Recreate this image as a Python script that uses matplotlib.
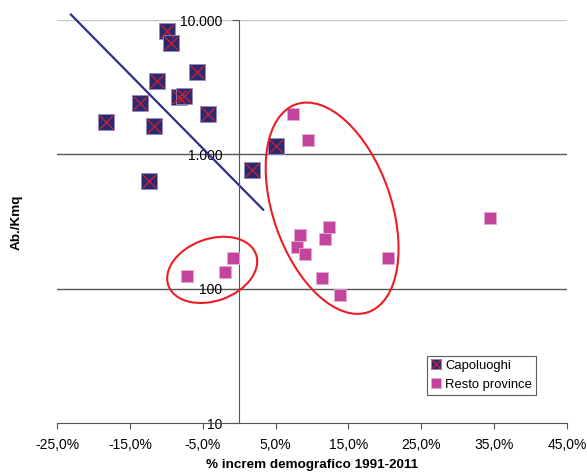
import matplotlib
matplotlib.use("Agg")
import matplotlib.pyplot as plt
from matplotlib.patches import Ellipse
from matplotlib.transforms import Affine2D, ScaledTranslation
from matplotlib.lines import Line2D

plt.rcParams['font.family'] = ['Liberation Sans', 'DejaVu Sans']

# Data: Capoluoghi (% increase 1991-2011, inhabitants/km2)
cap_x = [-9.9, -9.3, -5.8, -11.25, -8.2, -7.6, -13.6, -4.3, -18.3, -11.7, 5.0, 1.8, -12.4]
cap_y = [8250, 6760, 4110, 3500, 2680, 2740, 2415, 2000, 1730, 1636, 1155, 765, 629]

# Resto province
res_x = [7.45, 9.5, 12.35, 8.3, 11.8, 7.95, 9.05, 20.4, 11.4, 13.85, -7.2, -2.0, -0.8, 34.4]
res_y = [2000, 1280, 286, 251, 233, 205, 181, 168, 121, 89, 125, 133, 168, 338]

# Trend line (Capoluoghi)
trend_x = [-23.1, 3.3]
trend_y = [10990, 387]

# Highlight ellipses: centre (data), width/height (px), angle (deg)
ell_centres = [(12.76, 397), (-3.7, 138)]
ell_sizes = [(118, 220, 19.2), (93, 62, 19.7)]

xticks = [-25, -15, -5, 5, 15, 25, 35, 45]
xticklabels = ['-25,0%', '-15,0%', '-5,0%', '5,0%', '15,0%', '25,0%', '35,0%', '45,0%']
yticks = [10, 100, 1000, 10000]
yticklabels = ['10', '100', '1.000', '10.000']

W, H = 587, 473
fig = plt.figure(figsize=(W / 100, H / 100), dpi=100)
ax = fig.add_axes([57 / W, 1 - 423 / H, 510 / W, 403 / H])
ax.set_yscale('log')
ax.set_xlim(-25, 45)
ax.set_ylim(10, 10000)

navy = '#2b2a6e'
mag = '#c2449d'
red = '#ee1c25'

# gridlines
for v in yticks[1:]:
    col = '#c8c8c8' if v == 10000 else '#555555'
    ax.axhline(v, color=col, lw=1.0, zorder=1)

ax.plot(trend_x, trend_y, color='#2e2e8a', lw=1.6, zorder=2, clip_on=False)

ax.scatter(cap_x, cap_y, marker='s', s=11 ** 2, color=navy, edgecolor='#8f8fc8',
           linewidths=0.6, zorder=3)
ax.scatter(cap_x, cap_y, marker='x', s=9.5 ** 2, color=red, linewidths=0.8, zorder=4)
ax.scatter(res_x, res_y, marker='s', s=8 ** 2, color=mag, edgecolor='#e6a8d4',
           linewidths=0.6, zorder=3)

# ellipses
px = Affine2D().scale(1 / fig.dpi) + fig.dpi_scale_trans
for (cx, cy), (ew, eh, ang) in zip(ell_centres, ell_sizes):
    tr = px + ScaledTranslation(cx, cy, ax.transData)
    e = Ellipse((0, 0), ew, eh, angle=ang, fill=False, edgecolor=red, lw=1.5,
                transform=tr, zorder=5, clip_on=False)
    ax.add_patch(e)

# axes styling
for s in ['top', 'right']:
    ax.spines[s].set_visible(False)
ax.spines['left'].set_position(('data', 0))
ax.spines['left'].set_color('#555555')
ax.spines['bottom'].set_color('#555555')
ax.set_xticks(xticks)
ax.set_xticklabels(xticklabels)
ax.set_yticks(yticks)
ax.set_yticklabels(yticklabels)
ax.yaxis.set_minor_locator(matplotlib.ticker.NullLocator())
ax.tick_params(axis='x', direction='out', length=4, color='#555555', labelsize=10, pad=7)
ax.tick_params(axis='y', direction='out', length=5, color='#555555', labelsize=10, pad=7)

ax.set_xlabel('% increm demografico 1991-2011', fontsize=9.7, fontweight='bold', labelpad=5)
fig.text(17 / W, 1 - 222 / H, 'Ab./Kmq', rotation=90, fontsize=9.7, fontweight='bold',
         ha='center', va='center')

h1 = (Line2D([], [], marker='s', ls='', markersize=7.5, color=navy, markeredgecolor='#8f8fc8', markeredgewidth=0.5),
      Line2D([], [], marker='x', ls='', markersize=6.5, color=red, markeredgewidth=0.8))
h2 = Line2D([], [], marker='s', ls='', markersize=7.5, color=mag, markeredgecolor='#e6a8d4', markeredgewidth=0.5)
leg = fig.legend([h1, h2], ['Capoluoghi', 'Resto province'], loc='upper left',
                 bbox_to_anchor=(426.7 / W, 1 - 356 / H), bbox_transform=fig.transFigure,
                 borderaxespad=0, fontsize=9.4, frameon=True, fancybox=False,
                 handlelength=0.8, handletextpad=0.3, borderpad=0.3, labelspacing=0.5)
leg.get_frame().set_edgecolor('#333333')
leg.get_frame().set_linewidth(0.8)

fig.savefig('out.png', dpi=100)
